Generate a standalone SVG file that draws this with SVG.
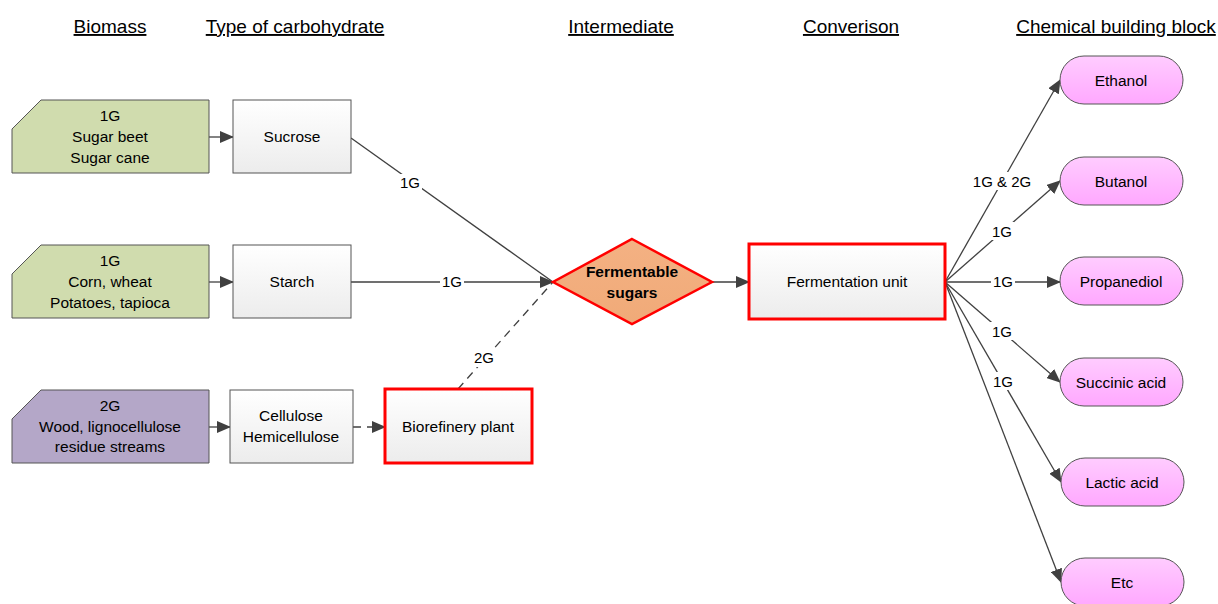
<svg xmlns="http://www.w3.org/2000/svg" width="1218" height="604" viewBox="0 0 1218 604">
<style>
text{font-family:"Liberation Sans",Arial,sans-serif;fill:#000;}
.h{font-size:19px;text-decoration:underline;text-anchor:middle;}
.t{font-size:15.5px;text-anchor:middle;}
.lbl{font-size:15px;text-anchor:middle;}
.box{fill:url(#gBox);stroke:#555;stroke-width:1;}
.red{fill:url(#gBox);stroke:#ff0000;stroke-width:3;}
.pill{fill:url(#gPink);stroke:#555;stroke-width:1;}
.c{fill:none;stroke:#404040;stroke-width:1.3;}
.d{stroke-dasharray:8,6;}
.bg{fill:#fff;}
</style>
<defs>
<linearGradient id="gBox" x1="0" y1="0" x2="0" y2="1"><stop offset="0" stop-color="#ffffff"/><stop offset="1" stop-color="#ececec"/></linearGradient>
<linearGradient id="gPink" x1="0" y1="0" x2="0" y2="1"><stop offset="0" stop-color="#ffccff"/><stop offset="1" stop-color="#ffa8ff"/></linearGradient>
<linearGradient id="gOr" x1="0" y1="0" x2="0" y2="1"><stop offset="0" stop-color="#f4b183"/><stop offset="1" stop-color="#f0aa78"/></linearGradient>
<marker id="ah" markerWidth="14" markerHeight="12" refX="13" refY="6" orient="auto" markerUnits="userSpaceOnUse"><path d="M0,0 L14,6 L0,12 z" fill="#404040"/></marker>
</defs>
<rect width="1218" height="604" fill="#fff"/>
<g id="headers">
<text class="h" x="110" y="33">Biomass</text>
<text class="h" x="295" y="33">Type of carbohydrate</text>
<text class="h" x="621" y="33">Intermediate</text>
<text class="h" x="851" y="33">Converison</text>
<text class="h" x="1116" y="33">Chemical building block</text>
</g>
<g id="connectors">
<line class="c" x1="209" y1="137" x2="233" y2="137" marker-end="url(#ah)"/>
<line class="c" x1="209" y1="282" x2="233" y2="282" marker-end="url(#ah)"/>
<line class="c" x1="209" y1="427" x2="230" y2="427" marker-end="url(#ah)"/>
<line class="c d" x1="353" y1="427" x2="385" y2="427" marker-end="url(#ah)"/>
<line class="c" x1="351" y1="138" x2="553" y2="282"/>
<line class="c" x1="351" y1="282" x2="553" y2="282" marker-end="url(#ah)"/>
<line class="c d" x1="458" y1="389" x2="553" y2="282"/>
<line class="c" x1="712" y1="282" x2="749" y2="282" marker-end="url(#ah)"/>
<line class="c" x1="945" y1="282" x2="1060" y2="80" marker-end="url(#ah)"/>
<line class="c" x1="945" y1="282" x2="1060" y2="181" marker-end="url(#ah)"/>
<line class="c" x1="945" y1="282" x2="1060" y2="282" marker-end="url(#ah)"/>
<line class="c" x1="945" y1="282" x2="1060" y2="382" marker-end="url(#ah)"/>
<line class="c" x1="945" y1="282" x2="1061" y2="482" marker-end="url(#ah)"/>
<line class="c" x1="945" y1="282" x2="1061" y2="582" marker-end="url(#ah)"/>
<rect class="bg" x="398" y="174" width="24" height="18"/><text class="lbl" x="410" y="188">1G</text>
<rect class="bg" x="440" y="274" width="24" height="17"/><text class="lbl" x="452" y="287">1G</text>
<rect class="bg" x="472" y="350" width="24" height="17"/><text class="lbl" x="484" y="363">2G</text>
<rect class="bg" x="971" y="172" width="62" height="18"/><text class="lbl" x="1002" y="187">1G &amp; 2G</text>
<rect class="bg" x="990" y="222" width="24" height="18"/><text class="lbl" x="1002" y="237">1G</text>
<rect class="bg" x="991" y="274" width="24" height="17"/><text class="lbl" x="1003" y="287">1G</text>
<rect class="bg" x="990" y="322" width="24" height="18"/><text class="lbl" x="1002" y="337">1G</text>
<rect class="bg" x="991" y="372" width="24" height="18"/><text class="lbl" x="1003" y="387">1G</text>
</g>
<g id="n-sugarbeet">
<path d="M41,100 L209,100 L209,173 L12,173 L12,129 Z" fill="#d0dcae" stroke="#555"/>
<text class="t" x="110" y="121">1G</text>
<text class="t" x="110" y="142">Sugar beet</text>
<text class="t" x="110" y="163">Sugar cane</text>
</g>
<g id="n-corn">
<path d="M41,245 L209,245 L209,318 L12,318 L12,274 Z" fill="#d0dcae" stroke="#555"/>
<text class="t" x="110" y="266">1G</text>
<text class="t" x="110" y="287">Corn, wheat</text>
<text class="t" x="110" y="308">Potatoes, tapioca</text>
</g>
<g id="n-wood">
<path d="M41,390 L209,390 L209,463 L12,463 L12,419 Z" fill="#b4a7c8" stroke="#555"/>
<text class="t" x="110" y="411">2G</text>
<text class="t" x="110" y="432">Wood, lignocellulose</text>
<text class="t" x="110" y="452">residue streams</text>
</g>
<g id="n-sucrose"><rect class="box" x="233" y="100" width="118" height="73"/><text class="t" x="292" y="142">Sucrose</text></g>
<g id="n-starch"><rect class="box" x="233" y="245" width="118" height="73"/><text class="t" x="292" y="287">Starch</text></g>
<g id="n-cellulose"><rect class="box" x="230" y="390" width="123" height="73"/><text class="t" x="291" y="421">Cellulose</text><text class="t" x="291" y="442">Hemicellulose</text></g>
<g id="n-biorefinery"><rect class="red" x="385" y="389" width="147" height="74"/><text class="t" x="458" y="432">Biorefinery plant</text></g>
<g id="n-fermentable"><path d="M632,239 L712,282 L632,324 L553,282 Z" fill="url(#gOr)" stroke="#ff0000" stroke-width="2.5"/><text class="t" x="632" y="277" font-weight="bold" font-size="15">Fermentable</text><text class="t" x="632" y="298" font-weight="bold" font-size="15">sugars</text></g>
<g id="n-fermentation"><rect class="red" x="749" y="244" width="196" height="75"/><text class="t" x="847" y="287">Fermentation unit</text></g>
<g id="n-ethanol"><rect class="pill" x="1060" y="56" width="123" height="48" rx="24"/><text class="t" x="1121" y="86">Ethanol</text></g>
<g id="n-butanol"><rect class="pill" x="1060" y="157" width="123" height="48" rx="24"/><text class="t" x="1121" y="187">Butanol</text></g>
<g id="n-propanediol"><rect class="pill" x="1060" y="257" width="123" height="48" rx="24"/><text class="t" x="1121" y="287">Propanediol</text></g>
<g id="n-succinic"><rect class="pill" x="1060" y="358" width="123" height="48" rx="24"/><text class="t" x="1121" y="388">Succinic acid</text></g>
<g id="n-lactic"><rect class="pill" x="1061" y="458" width="123" height="48" rx="24"/><text class="t" x="1122" y="488">Lactic acid</text></g>
<g id="n-etc"><rect class="pill" x="1061" y="558" width="123" height="48" rx="24"/><text class="t" x="1122" y="588">Etc</text></g>
</svg>
